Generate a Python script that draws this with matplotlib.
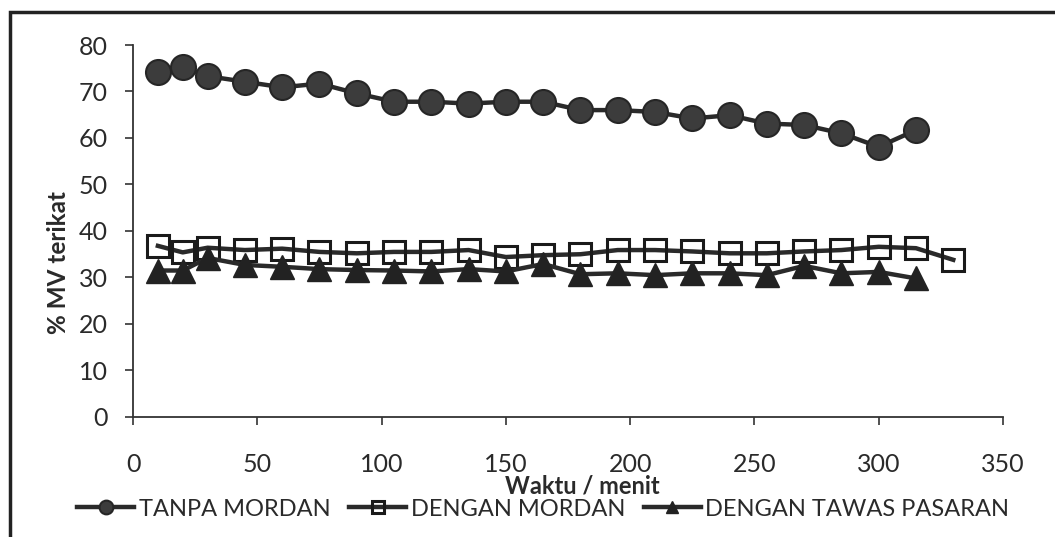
import matplotlib
matplotlib.use("Agg")
import matplotlib.pyplot as plt
from matplotlib.patches import Rectangle

plt.rcParams['font.family'] = ['Lato', 'DejaVu Sans']

# data
waktu = [10, 20, 30, 45, 60, 75, 90, 105, 120, 135, 150, 165,
         180, 195, 210, 225, 240, 255, 270, 285, 300, 315]
waktu_mordan = waktu + [330]

tanpa_mordan = [74.2, 75.3, 73.3, 72.1, 70.9, 71.7, 69.6, 67.8, 67.8, 67.4, 67.8,
                67.8, 66.0, 66.0, 65.6, 64.2, 64.9, 63.1, 62.8, 61.0, 58.1, 61.7]
dengan_mordan = [36.8, 35.4, 36.4, 35.9, 36.2, 35.5, 35.2, 35.5, 35.5, 35.9, 34.4,
                 34.8, 35.0, 35.9, 35.9, 35.6, 35.2, 35.2, 35.6, 35.9, 36.6, 36.3, 33.8]
tawas_pasaran = [31.5, 31.5, 34.2, 32.7, 32.3, 31.8, 31.6, 31.5, 31.3, 31.8, 31.3,
                 32.9, 30.7, 30.9, 30.5, 30.9, 30.9, 30.5, 32.5, 30.9, 31.2, 29.8]

labels = ['TANPA MORDAN', 'DENGAN MORDAN', 'DENGAN TAWAS PASARAN']

fig = plt.figure(figsize=(10.55, 5.37), dpi=100)
ax = fig.add_axes([0.1261, 0.2235, 0.8246, 0.6927])

line_col = '#2a2a2a'
ax.plot(waktu, tanpa_mordan, '-o', color=line_col, lw=3.2, ms=18,
        mfc='#3c3c3c', mec='#262626', mew=1.5, label=labels[0])
ax.plot(waktu_mordan, dengan_mordan, '-s', color=line_col, lw=3.2, ms=16,
        mfc='none', mec='#1a1a1a', mew=2.2, label=labels[1])
ax.plot(waktu, tawas_pasaran, '-^', color=line_col, lw=3.2, ms=17,
        mfc='#222222', mec='#222222', mew=1, label=labels[2])

ax.set_xlim(0, 350)
ax.set_ylim(0, 80)
ax.set_xticks(range(0, 351, 50))
ax.set_yticks(range(0, 81, 10))
ax.spines['top'].set_visible(False)
ax.spines['right'].set_visible(False)
for s in ('left', 'bottom'):
    ax.spines[s].set_linewidth(1.3)
    ax.spines[s].set_color('#333333')
ax.tick_params(axis='both', direction='out', length=6, width=1.2,
               color='#333333', labelsize=18, labelcolor='#2a2a2a')
ax.tick_params(axis='y', pad=12)
ax.tick_params(axis='x', pad=20)

ax.set_xlabel('Waktu / menit', fontsize=17, fontweight='bold', color='#2a2a2a')
ax.set_ylabel('% MV terikat', fontsize=17.5, fontweight='bold', color='#2a2a2a')
ax.xaxis.set_label_coords(0.516, -0.155)
ax.yaxis.set_label_coords(-0.073, 0.414)

fig.legend(loc='center', bbox_to_anchor=(0.515, 0.052), ncol=3, frameon=False,
           fontsize=17, handlelength=2.4, handletextpad=0.2, columnspacing=0.8,
           markerscale=0.55, labelcolor='#2a2a2a')

# outer chart border (cropped on the right/bottom in the scan)
fig.patches.append(Rectangle((10 / 1055, -0.2), 1.5, 1 - 12 / 537 + 0.2,
                             transform=fig.transFigure, fill=False,
                             lw=2.5, ec='#222222'))

fig.savefig('out.png', dpi=100)
